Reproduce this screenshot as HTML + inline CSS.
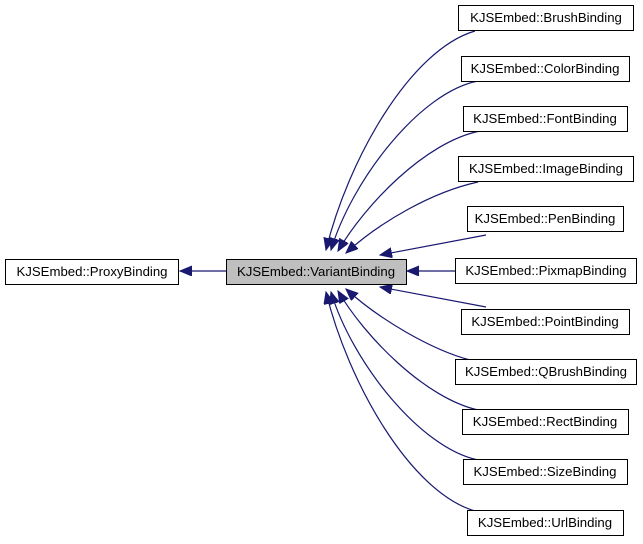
<!DOCTYPE html>
<html><head><meta charset="utf-8"><style>
html,body{margin:0;padding:0;background:#fff;}
svg{display:block}
text{font-family:"Liberation Sans",sans-serif;font-size:13.2px;fill:#000}
</style></head><body>
<svg width="643" height="544" viewBox="0 0 643 544">
<defs>
<marker id="a" markerUnits="userSpaceOnUse" markerWidth="14" markerHeight="12" refX="12" refY="5" orient="auto">
<path d="M0,0 L12,5 L0,10 z" fill="#191970" stroke="#191970"/>
</marker>
</defs>
<g fill="none" stroke="#191970" stroke-width="1.2">
<path d="M226,271 L180,271" marker-end="url(#a)"/>
<path d="M475,31 C410,50 348,160 326,250" marker-end="url(#a)"/>
<path d="M478,81 C420,92 352,180 331,250" marker-end="url(#a)"/>
<path d="M480,131 C425,142 365,205 338,251" marker-end="url(#a)"/>
<path d="M478,182 C432,192 380,222 346,253" marker-end="url(#a)"/>
<path d="M486,235 L380,255" marker-end="url(#a)"/>
<path d="M455,271 L407,271" marker-end="url(#a)"/>
<path d="M486,307 L380,287" marker-end="url(#a)"/>
<path d="M470,360 C432,350 380,320 346,289" marker-end="url(#a)"/>
<path d="M478,410 C425,398 365,337 338,291" marker-end="url(#a)"/>
<path d="M478,460 C420,448 352,362 331,292" marker-end="url(#a)"/>
<path d="M475,511 C410,492 348,382 326,292" marker-end="url(#a)"/>
</g>
<g stroke="#000" stroke-width="1" fill="#fff">
<rect x="5.5" y="259.5" width="173" height="25"/>
<rect x="226.5" y="259.5" width="180" height="25" fill="#bfbfbf"/>
<rect x="458.5" y="5.5" width="175" height="25"/>
<rect x="461.5" y="56.5" width="168" height="25"/>
<rect x="463.5" y="106.5" width="164" height="25"/>
<rect x="458.5" y="156.5" width="175" height="25"/>
<rect x="467.5" y="206.5" width="156" height="25"/>
<rect x="455.5" y="258.5" width="181" height="25"/>
<rect x="461.5" y="309.5" width="168" height="25"/>
<rect x="455.5" y="359.5" width="181" height="25"/>
<rect x="462.5" y="409.5" width="166" height="25"/>
<rect x="463.5" y="459.5" width="164" height="25"/>
<rect x="467.5" y="510.5" width="156" height="25"/>
</g>
<g text-anchor="middle">
<text x="92" y="276">KJSEmbed::ProxyBinding</text>
<text x="316" y="276">KJSEmbed::VariantBinding</text>
<text x="546" y="22">KJSEmbed::BrushBinding</text>
<text x="545" y="73">KJSEmbed::ColorBinding</text>
<text x="545" y="123">KJSEmbed::FontBinding</text>
<text x="546" y="173">KJSEmbed::ImageBinding</text>
<text x="545" y="223">KJSEmbed::PenBinding</text>
<text x="546" y="275">KJSEmbed::PixmapBinding</text>
<text x="545" y="326">KJSEmbed::PointBinding</text>
<text x="546" y="376">KJSEmbed::QBrushBinding</text>
<text x="545" y="426">KJSEmbed::RectBinding</text>
<text x="545" y="476">KJSEmbed::SizeBinding</text>
<text x="545" y="527">KJSEmbed::UrlBinding</text>
</g>
</svg>
</body></html>
